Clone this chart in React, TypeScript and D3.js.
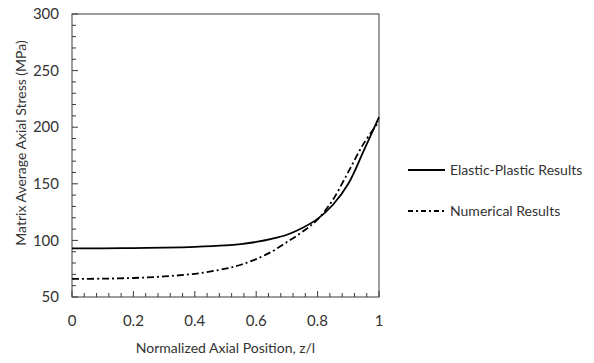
import React from "react";
import * as d3 from "d3";

// normalized axial position z/l
const zPos = [0, 0.1, 0.2, 0.3, 0.4, 0.5, 0.55, 0.6, 0.65, 0.7, 0.75, 0.8, 0.85, 0.9, 0.95, 1.0];
// Elastic-Plastic Results (MPa)
const elasticPlastic = [93, 93, 93.2, 93.6, 94.3, 95.6, 96.8, 98.6, 101.3, 105, 111, 119, 131.5, 150, 179, 209];
// Numerical Results (MPa)
const numerical = [66, 66.2, 66.8, 68.2, 70.5, 75, 78.5, 83.5, 90, 98.5, 107.5, 118.5, 136, 160.5, 185.5, 205];

const xTicks = [0, 0.2, 0.4, 0.6, 0.8, 1];
const yTicks = [50, 100, 150, 200, 250, 300];

const seriesNames = ["Elastic-Plastic Results", "Numerical Results"];

const W = 594;
const H = 363;
const font = "Lato, 'Noto Sans', sans-serif";

export default function App() {
  const left = 72, right = 379, top = 14, bottom = 297;

  const x = d3.scaleLinear().domain([0, 1]).range([left, right]);
  const y = d3.scaleLinear().domain([50, 300]).range([bottom, top]);

  const line = d3
    .line<number>()
    .x((_, i) => x(zPos[i]))
    .y((d) => y(d))
    .curve(d3.curveCatmullRom.alpha(0.5));

  const xMinor = d3.range(0, 1.0001, 0.04);
  const yMinor = d3.range(50, 300.001, 10);
  const axisColor = "#3a3a3a";
  const textColor = "#333";

  return (
    <svg width={W} height={H} style={{ position: "absolute", left: 0, top: 0, background: "#fff" }}>
      {/* plot frame */}
      <rect x={left} y={top} width={right - left} height={bottom - top} fill="none" stroke={axisColor} strokeWidth={1} />

      {/* ticks, drawn inside the frame */}
      {yMinor.map((v) => {
        const major = Math.abs(v % 50) < 1e-6;
        return (
          <line key={"yt" + v} x1={left} x2={left + (major ? 6 : 4)} y1={y(v)} y2={y(v)} stroke={axisColor} />
        );
      })}
      {xMinor.map((v) => {
        const major = Math.abs(Math.round(v * 100) % 20) < 1e-6;
        return (
          <line key={"xt" + v} x1={x(v)} x2={x(v)} y1={bottom} y2={bottom - (major ? 6 : 4)} stroke={axisColor} />
        );
      })}

      {/* tick labels */}
      {yTicks.map((v) => (
        <text key={"yl" + v} x={left - 13} y={y(v)} dy="0.35em" textAnchor="end" fontFamily={font} fontSize={15} fill={textColor}>
          {v}
        </text>
      ))}
      {xTicks.map((v) => (
        <text key={"xl" + v} x={x(v)} y={bottom + 29} textAnchor="middle" fontFamily={font} fontSize={15} fill={textColor}>
          {v}
        </text>
      ))}

      {/* axis titles */}
      <text
        transform={`translate(${21},${143}) rotate(-90)`}
        textAnchor="middle"
        dy="0.35em"
        fontFamily={font}
        fontSize={14}
        fill={textColor}
      >
        Matrix Average Axial Stress (MPa)
      </text>
      <text x={(left + right) / 2} y={bottom + 56} textAnchor="middle" fontFamily={font} fontSize={14} fill={textColor}>
        Normalized Axial Position, z/l
      </text>

      {/* series */}
      <path d={line(numerical) || ""} fill="none" stroke="#000" strokeWidth={1.8} strokeDasharray="7,3,2,3" />
      <path d={line(elasticPlastic) || ""} fill="none" stroke="#000" strokeWidth={1.8} />

      {/* legend */}
      <g fontFamily={font} fontSize={14} fill={textColor}>
        <line x1={408} x2={445} y1={170} y2={170} stroke="#000" strokeWidth={1.8} />
        <text x={450} y={170} dy="0.35em">{seriesNames[0]}</text>
        <line x1={408} x2={445} y1={211} y2={211} stroke="#000" strokeWidth={1.8} strokeDasharray="5,3,2,3" />
        <text x={450} y={211} dy="0.35em">{seriesNames[1]}</text>
      </g>
    </svg>
  );
}
